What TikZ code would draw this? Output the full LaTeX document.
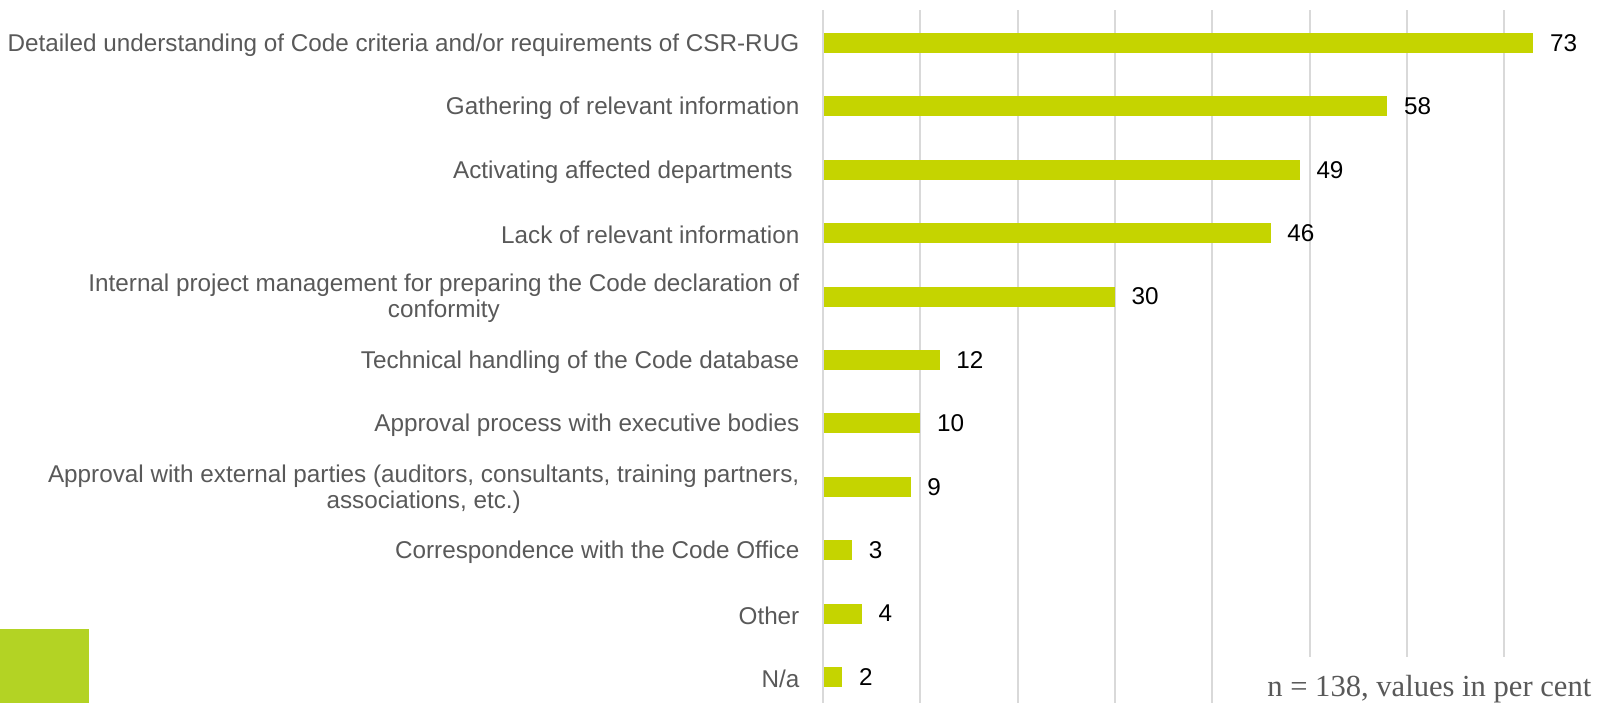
\documentclass[tikz,border=0pt]{standalone}
\usepackage{fontspec}
\setmainfont{Liberation Sans}
\newfontfamily\notefont{Liberation Serif}
\definecolor{barlime}{RGB}{197,212,0}
\definecolor{squarelime}{RGB}{179,211,36}
\definecolor{gridgray}{RGB}{217,217,217}
\definecolor{labelgray}{RGB}{89,89,89}
\tikzset{
    catlabel/.style={anchor=east,align=center,inner sep=0pt,text=labelgray,font=\fontsize{6.9}{7.4}\selectfont},
    vallabel/.style={anchor=west,inner sep=0pt,text=black,font=\fontsize{6.9}{7.4}\selectfont},
}

\begin{document}
\begin{tikzpicture}[x=0.01cm,y=-0.01cm]
    \useasboundingbox (0,0) rectangle (1598,703);

    % Grid lines
    \foreach \g in {0,10,...,70} {
        \draw[gridgray,line width=0.57pt] (823+\g*9.73,10) -- (823+\g*9.73,703);
    }

    % Bars with labels
    \foreach \v/\txt [count=\i] in {
        73/{Detailed understanding of Code criteria and/or requirements of CSR-RUG},
        58/{Gathering of relevant information},
        49/{Activating affected departments\ },
        46/{Lack of relevant information},
        30/{Internal project management for preparing the Code declaration of\\conformity},
        12/{Technical handling of the Code database},
        10/{Approval process with executive bodies},
        9/{Approval with external parties (auditors, consultants, training partners,\\associations, etc.)},
        3/{Correspondence with the Code Office},
        4/{Other},
        2/{N/a}} {
        \pgfmathsetmacro{\yc}{43+63.4*(\i-1)}
        \fill[barlime] (824,\yc-10) rectangle ++(\v*9.73-1,20);
        \node[catlabel] (cat\i) at (800,\yc+2) {\txt};
        \node[vallabel] (val\i) at (823+\v*9.73+16,\yc) {\v};
    }

    % Sample note
    \fill[white] (1240,657) rectangle (1598,703);
    \node[anchor=east,inner sep=0pt,text=labelgray,font=\notefont\fontsize{8.7}{9.5}\selectfont] (note) at (1592,689) {n = 138, values in per cent};

    % Corner square
    \fill[squarelime] (0,629) rectangle (89,703);
\end{tikzpicture}
\end{document}
